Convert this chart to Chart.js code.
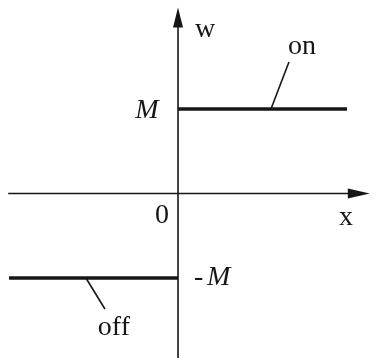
<!DOCTYPE html>
<html>
<head>
<meta charset="utf-8">
<script src="https://cdn.jsdelivr.net/npm/chart.js@4.4.1/dist/chart.umd.min.js"></script>
<style>
  html, body { margin: 0; padding: 0; background: #fff; }
  #wrap { width: 377px; height: 358px; }
</style>
</head>
<body>
<div id="wrap"><canvas id="relay" width="377" height="358"></canvas></div>
<script>
  // Ideal relay characteristic: w = M when on, w = -M when off
  const M = 1;
  const onX = [0, 2];
  const onW = [M, M];
  const offX = [-2, 0];
  const offW = [-M, -M];

  const ink = '#161616';
  const serif = '"Liberation Serif", "DejaVu Serif", serif';

  function pts(xs, ys) {
    return xs.map((x, i) => ({ x: x, y: ys[i] }));
  }

  // Axes with arrows, leaders and labels
  const relayDeco = {
    id: 'relayDeco',
    beforeDatasetsDraw(chart) {
      const { ctx, scales: { x, y } } = chart;
      const x0 = x.getPixelForValue(0);
      const y0 = y.getPixelForValue(0);
      ctx.save();
      ctx.strokeStyle = ink;
      ctx.fillStyle = ink;
      ctx.lineWidth = 1.6;

      // horizontal axis
      ctx.beginPath();
      ctx.moveTo(x.getPixelForValue(-2.01), y0);
      ctx.lineTo(x.getPixelForValue(2.05), y0);
      ctx.stroke();
      const xt = x.getPixelForValue(2.27);
      ctx.beginPath();
      ctx.moveTo(xt, y0);
      ctx.lineTo(xt - 22, y0 - 5);
      ctx.lineTo(xt - 22, y0 + 5);
      ctx.closePath();
      ctx.fill();

      // vertical axis
      ctx.beginPath();
      ctx.moveTo(x0, chart.height);
      ctx.lineTo(x0, y.getPixelForValue(2.0));
      ctx.stroke();
      const yt = y.getPixelForValue(2.2);
      ctx.beginPath();
      ctx.moveTo(x0, yt);
      ctx.lineTo(x0 - 5, yt + 20);
      ctx.lineTo(x0 + 5, yt + 20);
      ctx.closePath();
      ctx.fill();
      ctx.restore();
    },
    afterDatasetsDraw(chart) {
      const { ctx, scales: { x, y } } = chart;
      const x0 = x.getPixelForValue(0);
      const y0 = y.getPixelForValue(0);
      const yOn = y.getPixelForValue(M);
      const yOff = y.getPixelForValue(-M);
      ctx.save();
      ctx.strokeStyle = ink;
      ctx.fillStyle = ink;
      ctx.lineWidth = 1.6;

      // leader lines
      const aOn = x.getPixelForValue(1.1);
      ctx.beginPath();
      ctx.moveTo(aOn, yOn);
      ctx.lineTo(aOn + 18, yOn - 47);
      ctx.stroke();
      const aOff = x.getPixelForValue(-1.09);
      ctx.beginPath();
      ctx.moveTo(aOff, yOff);
      ctx.lineTo(aOff + 19, yOff + 31);
      ctx.stroke();

      ctx.textBaseline = 'alphabetic';
      ctx.textAlign = 'center';
      ctx.font = '28px ' + serif;
      ctx.fillText('on', aOn + 31, yOn - 55);
      ctx.fillText('off', aOff + 28, yOff + 57);
      ctx.fillText('w', x0 + 27, y0 - 156);
      ctx.fillText('0', x0 - 16, y0 + 30);
      ctx.fillText('x', x0 + 168, y0 + 32);
      ctx.textAlign = 'left';
      ctx.fillText('-', x0 + 16, yOff + 7);

      ctx.font = 'italic 28px ' + serif;
      ctx.textAlign = 'center';
      ctx.fillText('M', x0 - 31, yOn + 9);
      ctx.textAlign = 'left';
      ctx.fillText('M', x0 + 29, yOff + 7);
      ctx.restore();
    }
  };

  new Chart(document.getElementById('relay'), {
    type: 'scatter',
    data: {
      datasets: [
        {
          label: 'on',
          data: pts(onX, onW),
          showLine: true,
          borderColor: ink,
          borderWidth: 3.6,
          pointRadius: 0,
          borderCapStyle: 'butt'
        },
        {
          label: 'off',
          data: pts(offX, offW),
          showLine: true,
          borderColor: ink,
          borderWidth: 3.6,
          pointRadius: 0,
          borderCapStyle: 'butt'
        }
      ]
    },
    options: {
      responsive: false,
      animation: false,
      layout: { padding: 0 },
      scales: {
        x: { type: 'linear', min: -2.107, max: 2.355, display: false },
        y: { type: 'linear', min: -1.947, max: 2.29, display: false }
      },
      plugins: {
        legend: { display: false },
        tooltip: { enabled: false }
      }
    },
    plugins: [relayDeco]
  });
</script>
</body>
</html>
